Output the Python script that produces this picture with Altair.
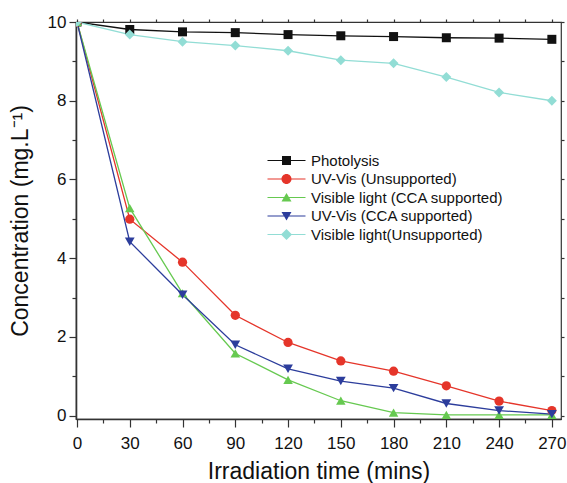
import altair as alt
import pandas as pd

times = [0, 30, 60, 90, 120, 150, 180, 210, 240, 270]
series_names = [
    "Photolysis",
    "UV-Vis (Unsupported)",
    "Visible light (CCA supported)",
    "UV-Vis (CCA supported)",
    "Visible light(Unsupported)",
]
photolysis = [10.0, 9.81, 9.75, 9.73, 9.68, 9.65, 9.63, 9.60, 9.59, 9.56]
uv_unsupported = [10.0, 4.99, 3.90, 2.55, 1.86, 1.39, 1.13, 0.76, 0.37, 0.13]
vis_cca = [10.0, 5.27, 3.11, 1.58, 0.91, 0.38, 0.08, 0.02, 0.02, 0.02]
uv_cca = [10.0, 4.42, 3.07, 1.80, 1.19, 0.88, 0.70, 0.31, 0.13, 0.04]
vis_unsupported = [10.0, 9.68, 9.50, 9.40, 9.27, 9.03, 8.95, 8.60, 8.21, 8.00]

colors = ["#111111", "#e5352a", "#66c950", "#2c3d9c", "#92ddd5"]
shapes = ["square", "circle", "triangle-up", "triangle-down", "diamond"]
sizes = [81, 100, 115, 115, 121]

LINE = "M-2.714,-0.086H2.714V0.086H-2.714Z"
legend_paths = [
    LINE + "M-0.643,-0.643H0.643V0.643H-0.643Z",
    LINE + "M-0.714,0A0.714,0.714,0,1,1,0.714,0A0.714,0.714,0,1,1,-0.714,0Z",
    LINE + "M0,-0.643L0.714,0.571L-0.714,0.571Z",
    LINE + "M0,0.643L-0.714,-0.571L0.714,-0.571Z",
    LINE + "M0,-0.786L0.786,0L0,0.786L-0.786,0Z",
]

all_values = [photolysis, uv_unsupported, vis_cca, uv_cca, vis_unsupported]
rows = []
for k, (name, vals) in enumerate(zip(series_names, all_values)):
    for t, v in zip(times, vals):
        rows.append({"t": t, "c": v, "series": name, "k": k})
df = pd.DataFrame(rows)

FONT = "Liberation Sans"
xscale = alt.Scale(domain=[-0.57, 275.2], nice=False, zero=False)
yscale = alt.Scale(domain=[-0.084, 10], nice=False, zero=False)

x_main = alt.X(
    "t:Q", scale=xscale, title="Irradiation time (mins)",
    axis=alt.Axis(
        values=list(range(0, 271, 15)),
        labelExpr="datum.value % 30 == 0 ? datum.label : ''",
        tickSize={"condition": {"test": "datum.value % 30 != 0", "value": 4}, "value": 8},
        labelPadding=8, titlePadding=9, labelFlush=False, labelOverlap=False,
    ),
)
y_main = alt.Y(
    "c:Q", scale=yscale, title="Concentration (mg.L\u207b\u00b9)",
    axis=alt.Axis(
        values=list(range(0, 11)),
        labelExpr="datum.value % 2 == 0 ? datum.label : ''",
        tickSize={"condition": {"test": "datum.value % 2 != 0", "value": 4}, "value": 7},
        labelPadding=3, titlePadding=15, labelFlush=False, labelOverlap=False,
    ),
)

base = alt.Chart(df)

frame = base.mark_point(opacity=0).encode(
    x=alt.X("t:Q", scale=xscale, axis=alt.Axis(orient="top", values=list(range(0, 271, 15)),
                                              labels=False, domain=False, tickSize=3, title=None)),
    y=alt.Y("c:Q", scale=yscale, axis=alt.Axis(orient="right", values=list(range(0, 11)),
                                              labels=False, domain=False, tickSize=3, title=None)),
)

lines = base.mark_line(strokeWidth=1.3, clip=True).encode(
    x=x_main,
    y=y_main,
    color=alt.Color("series:N", scale=alt.Scale(domain=series_names, range=colors), legend=None),
    order="t:Q",
)

points = base.mark_point(filled=True, opacity=1, clip=True).encode(
    x=alt.X("t:Q", scale=xscale, axis=None),
    y=alt.Y("c:Q", scale=yscale, axis=None),
    color=alt.Color("series:N", scale=alt.Scale(domain=series_names, range=colors), legend=None),
    shape=alt.Shape("series:N", scale=alt.Scale(domain=series_names, range=shapes), legend=None),
    size=alt.Size("series:N", scale=alt.Scale(domain=series_names, range=sizes), legend=None),
    order="k:Q",
)

leg = alt.Legend(
    orient="none", legendX=203, legendY=131, title=None, symbolSize=196,
    symbolStrokeWidth=0, labelFont=FONT, labelFontSize=15, labelColor="#111111",
    labelOffset=17, rowPadding=2.5, padding=0, symbolOpacity=1, labelLimit=0,
)
legend_layer = base.mark_point(filled=True, opacity=1).encode(
    color=alt.Color("series:N", scale=alt.Scale(domain=series_names, range=colors), legend=leg),
    shape=alt.Shape("series:N", scale=alt.Scale(domain=series_names, range=legend_paths), legend=leg),
).transform_filter("false")

chart = (
    alt.layer(frame, lines, points, legend_layer)
    .resolve_scale(color="independent", shape="independent")
    .resolve_axis(x="independent", y="independent")
    .properties(
        width=485, height=397, autosize="none",
        padding={"left": 76, "top": 22, "right": 6, "bottom": 64},
        background="white",
    )
    .configure_view(stroke="#333333", strokeWidth=1.2)
    .configure_axis(
        grid=False, domainColor="#333333", domainWidth=1.6, tickColor="#333333",
        tickWidth=1.2, labelFont=FONT, labelFontSize=17, labelColor="#111111",
        titleFont=FONT, titleFontSize=23, titleFontWeight="normal", titleColor="#111111",
    )
)

chart.save("out.html", embed_options={"renderer": "svg", "actions": False})
